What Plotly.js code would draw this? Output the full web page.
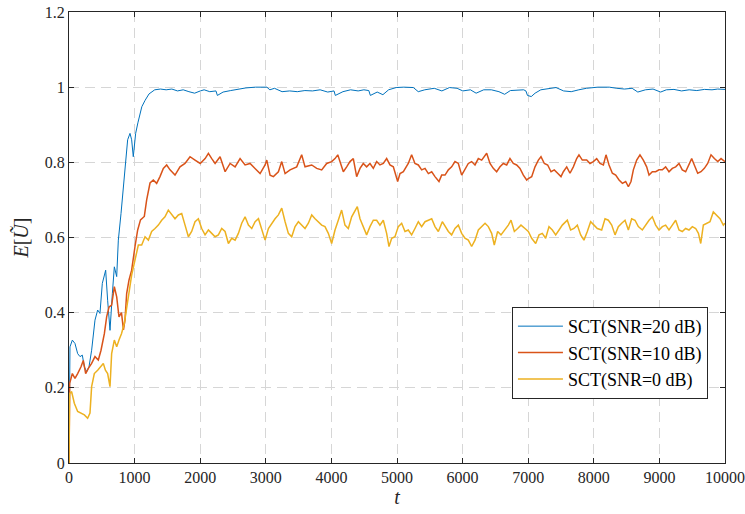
<!DOCTYPE html>
<html>
<head>
<meta charset="utf-8">
<script src="https://cdn.plot.ly/plotly-3.0.1.min.js"></script>
<style>html,body{margin:0;padding:0;background:#fff;}#chart{width:745px;height:514px;}</style>
</head>
<body>
<div id="chart"></div>
<script>
// ---------- data ----------
const seriesNames = ["SCT(SNR=20 dB)", "SCT(SNR=10 dB)", "SCT(SNR=0 dB)"];

const tBlue = [0,15,51,91,132,168,203,234,269,305,345,396,437,472,508,539,559,589,625,661,691,727,752,793,828,864,894,930,955,980,1016,1050,1110,1160,1220,1307,1394,1481,1568,1654,1741,1828,1915,2002,2060,2146,2240,2262,2349,2465,2581,2697,2842,3016,3062,3132,3248,3364,3480,3596,3712,3828,3944,4040,4060,4176,4292,4408,4495,4570,4594,4698,4785,4872,4988,5104,5249,5324,5423,5568,5684,5800,5916,6003,6119,6206,6322,6438,6554,6641,6728,6844,6931,6965,6989,7047,7105,7192,7308,7424,7540,7656,7772,7888,8062,8236,8352,8468,8584,8671,8787,8903,9019,9106,9222,9338,9454,9570,9686,9802,9889,10000];
const eBlue = [0,0.309,0.327,0.318,0.291,0.283,0.287,0.256,0.243,0.256,0.300,0.380,0.407,0.398,0.478,0.496,0.513,0.433,0.353,0.451,0.522,0.496,0.593,0.664,0.735,0.815,0.860,0.877,0.860,0.815,0.877,0.905,0.948,0.965,0.982,0.993,0.995,0.993,0.995,0.990,0.993,0.988,0.984,0.990,0.993,0.988,0.990,0.978,0.987,0.991,0.995,0.998,1.000,1.000,0.993,0.997,0.988,0.990,0.988,0.991,0.990,0.993,0.987,0.990,0.978,0.988,0.993,0.990,0.993,0.991,0.978,0.987,0.980,0.993,0.999,1.000,0.999,0.988,0.993,0.997,0.990,0.999,0.997,0.990,0.993,0.984,0.993,0.993,0.988,0.981,0.991,0.993,0.993,0.990,0.978,0.975,0.984,0.993,0.997,0.999,0.990,0.988,0.993,0.997,1.000,1.000,0.997,0.995,0.997,0.987,0.993,0.995,0.987,0.993,0.994,0.990,0.993,0.991,0.994,0.993,0.995,0.994];

const tRed = [0,10,51,91,132,183,218,254,295,345,396,447,488,539,574,610,650,691,727,762,800,830,853,879,915,955,1006,1047,1090,1148,1184,1235,1285,1336,1387,1438,1489,1540,1616,1692,1768,1845,1921,2000,2075,2125,2176,2227,2303,2380,2456,2532,2608,2684,2760,2837,2913,2989,3015,3065,3116,3192,3243,3294,3370,3471,3547,3598,3700,3776,3852,3928,4004,4055,4097,4148,4182,4233,4283,4334,4385,4436,4486,4537,4588,4639,4690,4740,4791,4842,4893,4944,5010,5046,5097,5172,5223,5274,5325,5376,5427,5478,5529,5579,5640,5681,5732,5783,5833,5884,5935,5986,6036,6087,6138,6189,6240,6291,6367,6418,6468,6519,6570,6621,6672,6722,6773,6824,6875,6926,6977,7002,7053,7104,7155,7195,7246,7297,7348,7398,7449,7500,7536,7587,7637,7688,7739,7774,7825,7892,7942,7993,8044,8095,8146,8186,8232,8283,8334,8385,8436,8486,8527,8567,8603,8654,8704,8755,8806,8842,8892,8943,8994,9045,9095,9146,9197,9248,9299,9349,9400,9451,9492,9543,9584,9634,9685,9736,9787,9838,9889,9940,10000];
const eRed = [0,0.212,0.238,0.225,0.238,0.256,0.273,0.238,0.252,0.265,0.283,0.274,0.300,0.344,0.389,0.415,0.420,0.469,0.442,0.389,0.400,0.354,0.380,0.451,0.487,0.513,0.576,0.620,0.647,0.656,0.700,0.745,0.753,0.744,0.762,0.784,0.793,0.780,0.766,0.788,0.797,0.815,0.806,0.797,0.810,0.824,0.810,0.797,0.815,0.775,0.797,0.788,0.810,0.793,0.797,0.784,0.770,0.793,0.806,0.766,0.762,0.775,0.802,0.770,0.780,0.788,0.820,0.788,0.793,0.784,0.780,0.797,0.802,0.810,0.820,0.793,0.775,0.788,0.802,0.810,0.762,0.784,0.797,0.788,0.797,0.784,0.802,0.793,0.797,0.810,0.793,0.788,0.749,0.770,0.775,0.797,0.820,0.797,0.793,0.780,0.784,0.770,0.775,0.762,0.749,0.766,0.766,0.780,0.788,0.802,0.797,0.766,0.780,0.797,0.802,0.793,0.810,0.806,0.824,0.797,0.784,0.775,0.788,0.797,0.793,0.810,0.797,0.793,0.784,0.766,0.753,0.757,0.762,0.788,0.806,0.815,0.797,0.793,0.775,0.780,0.771,0.762,0.775,0.788,0.771,0.788,0.810,0.820,0.806,0.806,0.797,0.802,0.810,0.797,0.793,0.820,0.793,0.771,0.766,0.753,0.744,0.749,0.735,0.749,0.780,0.806,0.820,0.806,0.788,0.766,0.775,0.775,0.780,0.780,0.788,0.775,0.784,0.788,0.797,0.780,0.775,0.797,0.810,0.788,0.771,0.775,0.784,0.797,0.820,0.810,0.802,0.810,0.802];

const tYellow = [0,10,40,81,132,183,234,284,320,345,386,437,488,523,555,589,625,650,691,727,762,800,843,879,915,955,1006,1057,1108,1159,1210,1260,1311,1362,1413,1463,1514,1565,1616,1667,1718,1769,1820,1870,1921,1972,2023,2074,2125,2176,2227,2277,2328,2379,2430,2481,2532,2582,2633,2684,2735,2786,2837,2888,2938,2989,3040,3090,3141,3192,3243,3294,3344,3395,3446,3497,3547,3598,3649,3700,3751,3801,3852,3902,3953,4004,4055,4105,4156,4207,4258,4309,4360,4395,4436,4486,4537,4588,4639,4690,4740,4791,4842,4878,4919,4969,5020,5071,5122,5172,5223,5274,5325,5376,5427,5478,5529,5579,5630,5691,5732,5783,5833,5884,5935,5986,6036,6087,6138,6189,6240,6291,6342,6392,6443,6483,6534,6585,6646,6697,6738,6789,6839,6890,6951,7002,7053,7114,7165,7215,7266,7317,7368,7419,7470,7520,7596,7647,7698,7749,7800,7850,7901,7952,8003,8054,8120,8171,8222,8273,8324,8374,8425,8476,8527,8577,8628,8679,8740,8791,8842,8892,8943,8994,9045,9095,9146,9197,9248,9299,9349,9400,9451,9502,9553,9595,9630,9670,9720,9771,9822,9873,9924,9975,10000];
const eYellow = [0,0.185,0.190,0.159,0.137,0.133,0.128,0.119,0.133,0.203,0.238,0.247,0.256,0.265,0.247,0.238,0.203,0.291,0.327,0.309,0.327,0.344,0.371,0.415,0.460,0.500,0.540,0.580,0.580,0.602,0.593,0.616,0.624,0.633,0.646,0.655,0.673,0.660,0.650,0.660,0.664,0.633,0.602,0.616,0.642,0.650,0.624,0.607,0.620,0.611,0.602,0.607,0.624,0.616,0.584,0.598,0.593,0.611,0.638,0.655,0.633,0.624,0.642,0.650,0.624,0.593,0.624,0.638,0.650,0.660,0.678,0.642,0.611,0.602,0.629,0.642,0.633,0.624,0.638,0.660,0.650,0.642,0.633,0.629,0.611,0.584,0.620,0.646,0.673,0.633,0.624,0.655,0.673,0.682,0.650,0.629,0.607,0.629,0.646,0.646,0.633,0.646,0.611,0.576,0.598,0.602,0.629,0.638,0.616,0.620,0.607,0.624,0.642,0.629,0.642,0.646,0.650,0.629,0.616,0.642,0.629,0.616,0.607,0.624,0.633,0.611,0.598,0.593,0.576,0.593,0.620,0.629,0.638,0.629,0.611,0.580,0.616,0.607,0.620,0.633,0.646,0.616,0.624,0.633,0.624,0.616,0.598,0.584,0.607,0.611,0.598,0.629,0.620,0.607,0.620,0.633,0.646,0.620,0.624,0.633,0.607,0.593,0.616,0.642,0.633,0.624,0.620,0.650,0.646,0.633,0.607,0.629,0.638,0.646,0.620,0.650,0.646,0.629,0.620,0.633,0.646,0.655,0.633,0.620,0.629,0.633,0.620,0.633,0.646,0.620,0.616,0.624,0.620,0.629,0.624,0.611,0.584,0.633,0.638,0.642,0.668,0.660,0.650,0.633,0.638];

const xTicks = [0,1000,2000,3000,4000,5000,6000,7000,8000,9000,10000];
const yTicks = [0,0.2,0.4,0.6,0.8,1,1.2];
const yTickText = ["0","0.2","0.4","0.6","0.8","1","1.2"];

// ---------- styling ----------
const colors = ["#0072BD", "#D95319", "#EDB120"];
const axisColor = "#262626";

const traces = [
  {x: tBlue, y: eBlue, name: seriesNames[0], type: "scatter", mode: "lines",
   line: {color: colors[0], width: 1}},
  {x: tRed, y: eRed, name: seriesNames[1], type: "scatter", mode: "lines",
   line: {color: colors[1], width: 1.5}},
  {x: tYellow, y: eYellow, name: seriesNames[2], type: "scatter", mode: "lines",
   line: {color: colors[2], width: 1.5}}
];

const commonAxis = {
  showline: true, linecolor: axisColor, linewidth: 1, mirror: "ticks",
  ticks: "inside", ticklen: 5, tickwidth: 1, tickcolor: axisColor,
  showgrid: true, gridcolor: "#d6d6d6", gridwidth: 1, griddash: "10px,6px",
  zeroline: false
};

const layout = {
  width: 745, height: 514,
  margin: {l: 69, r: 20, t: 12, b: 51},
  paper_bgcolor: "#ffffff", plot_bgcolor: "#ffffff",
  font: {family: "Liberation Serif", size: 16, color: axisColor},
  showlegend: true,
  xaxis: Object.assign({}, commonAxis, {
    range: [0, 10000], tickmode: "array", tickvals: xTicks,
    ticktext: xTicks.map(String),
    title: {text: "<i>t</i>", font: {size: 20}, standoff: 4}
  }),
  yaxis: Object.assign({}, commonAxis, {
    range: [0, 1.2], tickmode: "array", tickvals: yTicks, ticktext: yTickText,
    title: {text: "<i>E</i>[<i>Ũ</i>]", font: {size: 20}, standoff: 10}
  }),
  legend: {
    x: 0.974, y: 0.346, xanchor: "right", yanchor: "top",
    bgcolor: "#ffffff", bordercolor: "#262626", borderwidth: 1,
    font: {size: 18, color: "#000000"},
    tracegroupgap: 0, itemwidth: 45, entrywidth: 212, entrywidthmode: "pixels"
  }
};

Plotly.newPlot("chart", traces, layout, {displayModeBar: false, staticPlot: true});
</script>
</body>
</html>
